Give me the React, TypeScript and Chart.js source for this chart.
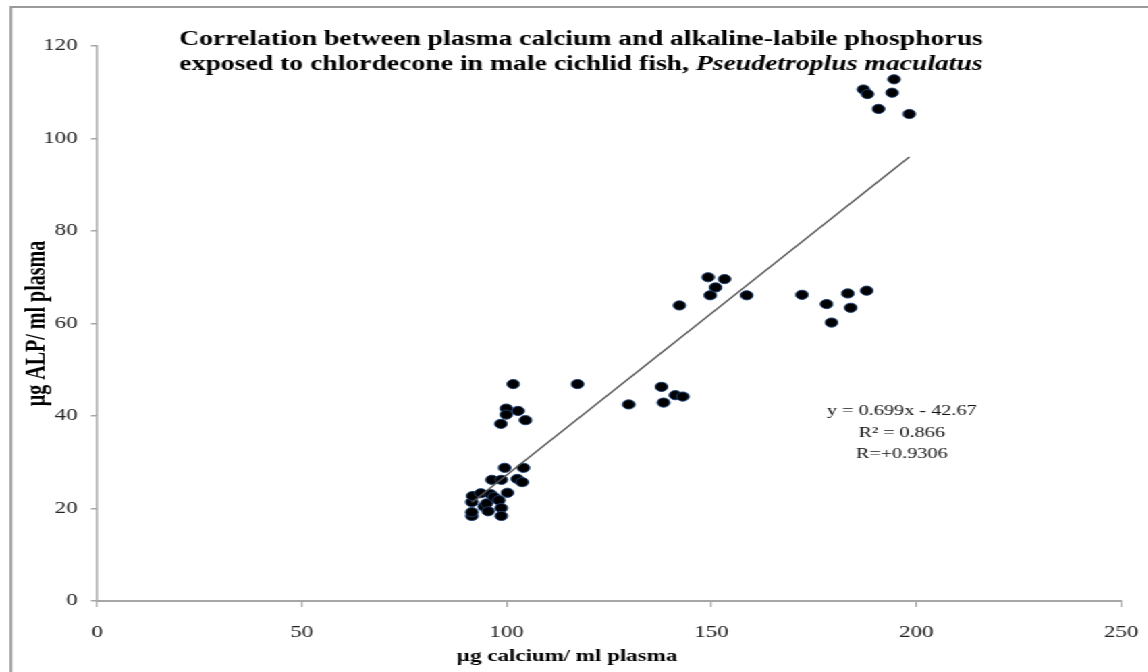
import React, { useEffect, useRef } from "react";
import { Chart, registerables } from "chart.js";

Chart.register(...registerables);

// The reference picture is horizontally stretched; draw at a narrower width and stretch.
const STRETCH = 1.35;
const WIDTH = 850;
const HEIGHT = 672;

const calciumX = [
  91.5, 91.5, 91.5, 91.7, 93.7, 94.5, 95.1, 95.5, 96.1, 96.4, 96.9, 98.1, 98.7, 98.7, 98.7,
  99.5, 100.2, 102.6, 103.8, 104.1, 98.6, 99.9, 99.9, 102.8, 104.6, 101.6, 117.3,
  129.8, 137.8, 138.3, 141.2, 143.0, 142.2, 149.2, 153.2, 151.0, 149.7, 158.6,
  172.1, 178.1, 183.3, 187.9, 184.0, 179.3,
  194.6, 187.1, 188.1, 194.1, 190.8, 198.3,
];
const alpY = [
  18.4, 19.2, 21.4, 22.7, 23.3, 20.4, 21.1, 19.4, 23.1, 26.2, 22.5, 21.8, 26.2, 20.1, 18.4,
  28.8, 23.4, 26.4, 25.7, 28.8, 38.3, 41.6, 40.3, 41.1, 39.1, 46.9, 46.9,
  42.5, 46.3, 42.9, 44.5, 44.2, 63.9, 70.0, 69.6, 67.8, 66.1, 66.1,
  66.2, 64.2, 66.5, 67.1, 63.4, 60.2,
  112.8, 110.6, 109.6, 109.9, 106.4, 105.3,
];
const trendX = [91.5, 198.3];
const trendY = [21.3, 96.0];

const xMin = 0, xMax = 250, xStep = 50;
const yMin = 0, yMax = 120, yStep = 20;

const titleLine1 = "Correlation between plasma calcium and alkaline-labile phosphorus";
const titleLine2a = "exposed to chlordecone in male cichlid fish, ";
const titleLine2b = "Pseudetroplus maculatus";
const equationLines = ["y = 0.699x - 42.67", "R\u00B2 = 0.866", "R=+0.9306"];
const xTitle = "\u00B5g calcium/ ml plasma";
const yTitle = "\u00B5g ALP/ ml plasma";

const SERIF = '"Liberation Serif", "Times New Roman", serif';

const decorPlugin = {
  id: "decor",
  beforeDraw(chart: any) {
    const ctx = chart.ctx;
    ctx.save();
    ctx.fillStyle = "#ffffff";
    ctx.fillRect(0, 0, chart.width, chart.height);
    ctx.strokeStyle = "#9a9a9a";
    ctx.lineWidth = 2;
    ctx.beginPath();
    ctx.moveTo(8.1, chart.height);
    ctx.lineTo(8.1, 7);
    ctx.lineTo(chart.width, 7);
    ctx.stroke();
    ctx.restore();
  },
  afterDraw(chart: any) {
    const ctx = chart.ctx;
    ctx.save();
    ctx.fillStyle = "#000000";
    ctx.textBaseline = "alphabetic";
    const cx = 430.4;
    ctx.font = `bold 20.5px ${SERIF}`;
    ctx.textAlign = "center";
    ctx.fillText(titleLine1, cx, 45);
    const wA = ctx.measureText(titleLine2a).width;
    ctx.font = `italic bold 20.5px ${SERIF}`;
    const wB = ctx.measureText(titleLine2b).width;
    const start = cx - (wA + wB) / 2;
    ctx.textAlign = "left";
    ctx.font = `bold 20.5px ${SERIF}`;
    ctx.fillText(titleLine2a, start, 70);
    ctx.font = `italic bold 20.5px ${SERIF}`;
    ctx.fillText(titleLine2b, start + wA, 70);

    // x-axis title (centred on the figure, not on the axis, as in the reference)
    ctx.font = `bold 17px ${SERIF}`;
    ctx.textAlign = "center";
    ctx.textBaseline = "middle";
    ctx.fillText(xTitle, 420, 657);

    ctx.textBaseline = "alphabetic";
    ctx.font = `15px ${SERIF}`;
    ctx.fillStyle = "#111111";
    const ex = 668;
    equationLines.forEach((t, i) => ctx.fillText(t, ex, 415 + i * 21.5));
    ctx.restore();
  },
};

export default function App() {
  const ref = useRef<HTMLCanvasElement | null>(null);

  useEffect(() => {
    if (!ref.current) return;
    const points = calciumX.map((x, i) => ({ x, y: alpY[i] }));
    const trend = trendX.map((x, i) => ({ x, y: trendY[i] }));
    const chart = new Chart(ref.current, {
      type: "scatter",
      data: {
        datasets: [
          {
            type: "line",
            data: trend,
            borderColor: "#555555",
            borderWidth: 1.3,
            pointRadius: 0,
            fill: false,
          } as any,
          {
            data: points,
            backgroundColor: "#000000",
            borderColor: "#1c3f73",
            borderWidth: 1,
            pointRadius: 4.6,
            pointHoverRadius: 4.6,
          },
        ],
      },
      options: {
        responsive: false,
        devicePixelRatio: 1,
        animation: false,
        layout: { padding: { top: 46, right: 19.6, left: 0, bottom: 0 } },
        plugins: {
          legend: { display: false },
          title: { display: false },
          tooltip: { enabled: false },
        },
        scales: {
          x: {
            type: "linear",
            min: xMin,
            max: xMax,
            afterFit: (s: any) => {
              s.height = 71;
              s.paddingLeft = 0;
              s.paddingRight = 0;
            },
            grid: {
              display: true,
              drawOnChartArea: false,
              drawTicks: true,
              tickLength: 6,
              color: "#a6a6a6",
              lineWidth: 1.2,
            },
            border: { display: true, color: "#a6a6a6", width: 2 },
            ticks: {
              stepSize: xStep,
              padding: 15,
              color: "#222222",
              font: { family: SERIF, size: 17 },
              maxRotation: 0,
            },
            title: { display: false, text: xTitle },
          },
          y: {
            type: "linear",
            min: yMin,
            max: yMax,
            afterFit: (s: any) => {
              s.width = 71.9;
            },
            grid: {
              display: true,
              drawOnChartArea: false,
              drawTicks: true,
              tickLength: 4.5,
              color: "#a6a6a6",
              lineWidth: 1.5,
            },
            border: { display: true, color: "#a6a6a6", width: 1.5 },
            ticks: {
              stepSize: yStep,
              padding: 10,
              color: "#222222",
              font: { family: SERIF, size: 17 },
            },
            title: {
              display: true,
              text: yTitle,
              color: "#000000",
              font: { family: SERIF, size: 20, weight: "bold" },
              padding: { top: 16, bottom: 0 },
            },
          },
        },
      },
      plugins: [decorPlugin],
    });
    return () => chart.destroy();
  }, []);

  return (
    <div
      style={{
        position: "absolute",
        left: 0,
        top: 0,
        width: WIDTH,
        height: HEIGHT,
        transform: `scaleX(${STRETCH})`,
        transformOrigin: "0 0",
        background: "#ffffff",
      }}
    >
      <canvas ref={ref} width={WIDTH} height={HEIGHT} />
    </div>
  );
}
